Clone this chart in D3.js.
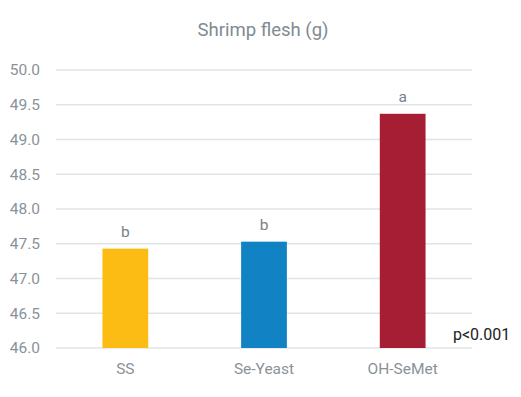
<!DOCTYPE html>
<html><head><meta charset="utf-8">
<script src="https://cdn.jsdelivr.net/npm/d3@7"></script>
<style>body{margin:0;background:#fff;}svg{display:block;}</style>
</head><body>
<script>
const categories = ["SS", "Se-Yeast", "OH-SeMet"];
const values = [47.43, 47.53, 49.37];
const letters = ["b", "b", "a"];
const colors = ["#FDBC13", "#1183C5", "#A51E33"];
const yTicks = [46.0, 46.5, 47.0, 47.5, 48.0, 48.5, 49.0, 49.5, 50.0];
const title = "Shrimp flesh (g)";
const note = "p<0.001";

const W = 521, H = 397;
const m = {left: 56, right: 49, top: 70, bottom: 49};
const svg = d3.select("body").append("svg").attr("width", W).attr("height", H);
const font = "Roboto, 'DejaVu Sans', sans-serif";

const x = d3.scaleBand().domain(categories).range([m.left, W - m.right]).paddingInner(0.67).paddingOuter(0.335);
const y = d3.scaleLinear().domain([46, 50]).range([H - m.bottom, m.top]);

// gridlines
svg.append("g").selectAll("line").data(yTicks).join("line")
  .attr("x1", m.left).attr("x2", W - m.right)
  .attr("y1", d => y(d)).attr("y2", d => y(d))
  .attr("stroke", "#e1e3e5").attr("stroke-width", 1.5);

// y axis labels
const yAxis = d3.axisLeft(y).tickValues(yTicks).tickFormat(d3.format(".1f")).tickSize(0).tickPadding(16);
const ga = svg.append("g").attr("transform", `translate(${m.left},0)`).call(yAxis);
ga.select(".domain").remove();
ga.selectAll("text").attr("font-family", font).attr("font-size", 15.5).attr("fill", "#8a9299");

// bars
svg.append("g").selectAll("rect").data(categories).join("rect")
  .attr("x", d => x(d)).attr("width", x.bandwidth())
  .attr("y", (d, i) => y(values[i])).attr("height", (d, i) => y(46) - y(values[i]))
  .attr("fill", (d, i) => colors[i]);

// letters
svg.append("g").selectAll("text").data(categories).join("text")
  .attr("x", d => x(d) + x.bandwidth() / 2)
  .attr("y", (d, i) => y(values[i]) - 12)
  .attr("text-anchor", "middle").attr("font-family", font).attr("font-size", 15.5)
  .attr("fill", "#7a828a")
  .text((d, i) => letters[i]);

// x axis labels
const xAxis = d3.axisBottom(x).tickSize(0).tickPadding(15);
const gx = svg.append("g").attr("transform", `translate(0,${y(46)})`).call(xAxis);
gx.select(".domain").remove();
gx.selectAll("text").attr("font-family", font).attr("font-size", 15.5).attr("fill", "#8a9299");

// title
svg.append("text").attr("x", 263).attr("y", 36).attr("text-anchor", "middle")
  .attr("font-family", font).attr("font-size", 18.5).attr("fill", "#808a93")
  .text(title);

// note
svg.append("text").attr("x", 453).attr("y", 340)
  .attr("font-family", font).attr("font-size", 16).attr("fill", "#222")
  .text(note);
</script>
</body></html>
